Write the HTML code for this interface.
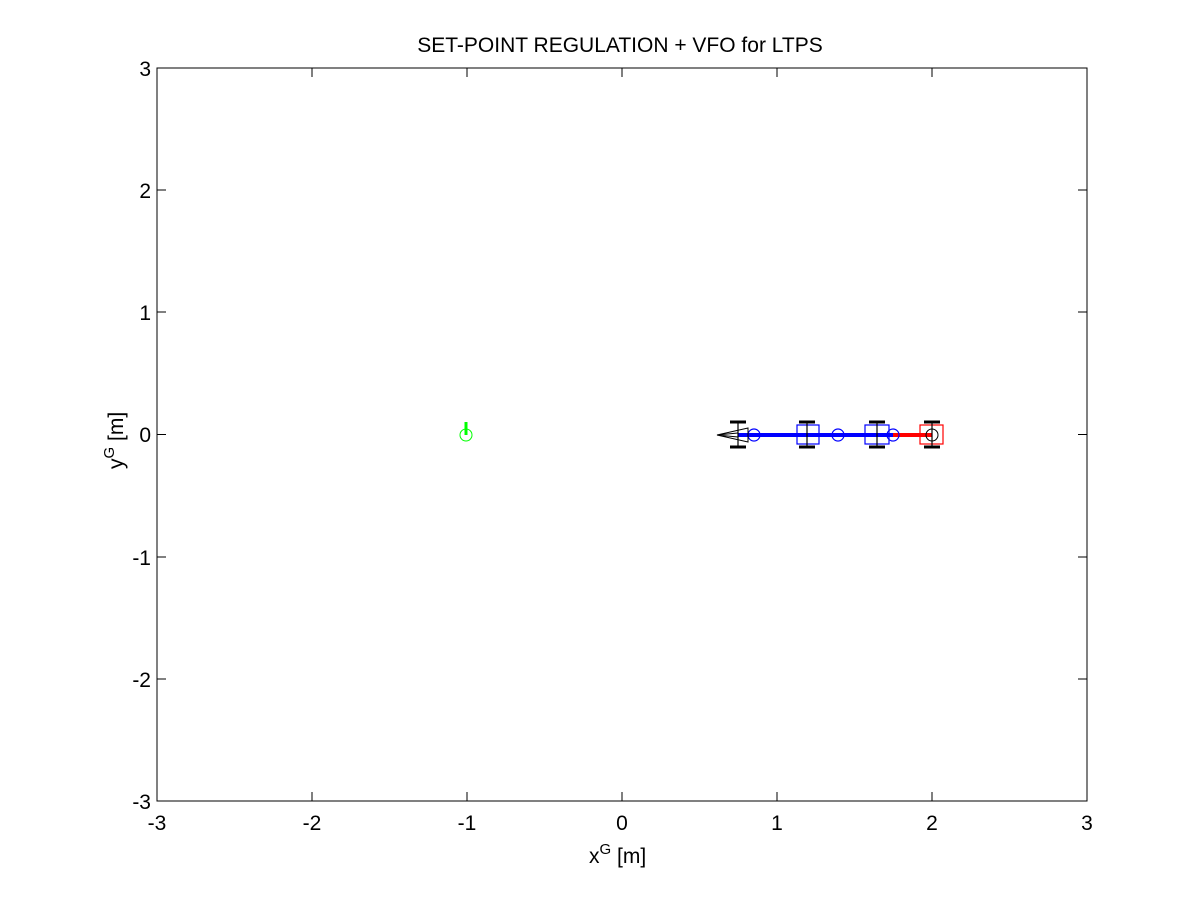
<!DOCTYPE html>
<html><head><style>body{margin:0;background:#fff}svg{display:block}</style></head><body>
<svg width="1201" height="901" xmlns="http://www.w3.org/2000/svg" font-family="Liberation Sans, sans-serif" font-size="21">
<rect width="1201" height="901" fill="#fff"/>
<rect x="157" y="68" width="930" height="733" fill="none" stroke="#000"/>
<g stroke="#000">
<path d="M157 801v-9M312 801v-9M467 801v-9M622 801v-9M777 801v-9M932 801v-9M1087 801v-9M157 68v9M312 68v9M467 68v9M622 68v9M777 68v9M932 68v9M1087 68v9"/>
<path d="M157 68h9M157 190h9M157 312h9M157 434.5h9M157 557h9M157 679h9M157 801h9M1087 68h-9M1087 190h-9M1087 312h-9M1087 434.5h-9M1087 557h-9M1087 679h-9M1087 801h-9"/>
</g>
<g text-anchor="middle">
<text x="157" y="830">-3</text><text x="312" y="830">-2</text><text x="467" y="830">-1</text><text x="622" y="830">0</text><text x="777" y="830">1</text><text x="932" y="830">2</text><text x="1087" y="830">3</text>
</g>
<g text-anchor="end">
<text x="151" y="76">3</text><text x="151" y="198">2</text><text x="151" y="320">1</text><text x="151" y="442">0</text><text x="151" y="565">-1</text><text x="151" y="687">-2</text><text x="151" y="809">-3</text>
</g>
<text x="620" y="52" text-anchor="middle">SET-POINT REGULATION + VFO for LTPS</text>
<text x="589" y="863">x<tspan dy="-9" font-size="15">G</tspan><tspan dy="9"> [m]</tspan></text>
<text transform="translate(123,469) rotate(-90)">y<tspan dy="-9" font-size="15">G</tspan><tspan dy="9"> [m]</tspan></text>
<circle cx="466" cy="435" r="6" fill="none" stroke="#0f0"/>
<line x1="466" y1="435" x2="466" y2="422" stroke="#0f0" stroke-width="3"/>
<line x1="738" y1="435" x2="893" y2="435" stroke="#00f" stroke-width="4"/>
<line x1="893" y1="435" x2="932" y2="435" stroke="#f00" stroke-width="4"/>
<g fill="none" stroke="#00f" stroke-width="1.2">
<rect x="797" y="425" width="22" height="19"/>
<rect x="865" y="425" width="24" height="19"/>
<circle cx="754" cy="435" r="6"/><circle cx="838" cy="435" r="6"/><circle cx="893" cy="435" r="6"/>
</g>
<rect x="920" y="425" width="23" height="19" fill="none" stroke="#f00" stroke-width="1.2"/>
<circle cx="932" cy="435" r="6" fill="none" stroke="#000"/>
<g stroke="#000">
<path d="M738 422v25M807 422v25M877 422v25M932 422v25" stroke-width="1.2"/>
<path d="M730 422h16M730 447h16M799 422h16M799 447h16M869 422h16M869 447h16M924 422h16M924 447h16" stroke-width="3"/>
<path d="M717 435L748 428L748 442Z M717 435L738 433M717 435L738 437" fill="none"/>
</g>
</svg>
</body></html>
